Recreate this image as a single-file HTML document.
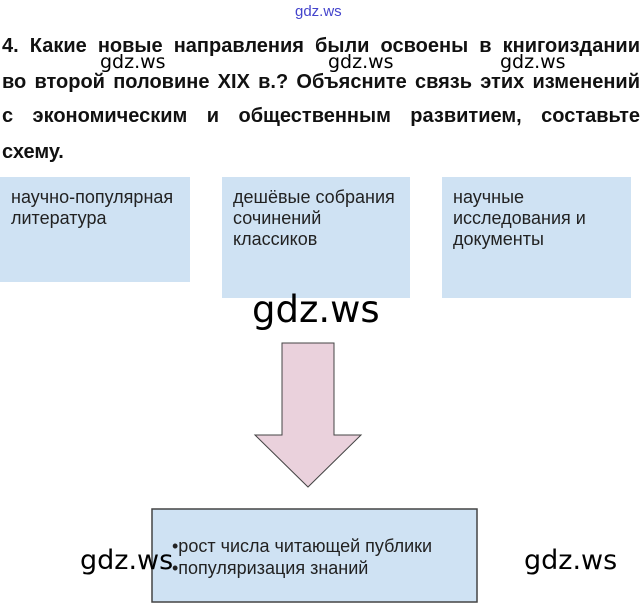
<!DOCTYPE html>
<html><head><meta charset="utf-8"><style>
body{margin:0;width:644px;height:607px;background:#fff;position:relative;overflow:hidden;font-family:"Liberation Sans","DejaVu Sans",sans-serif}
.a{position:absolute}
.t{left:2px;width:638px;font-weight:bold;font-size:20px;text-align:justify;text-align-last:justify;white-space:nowrap;color:#111;font-family:"Liberation Sans",sans-serif}
.b{background:#cfe2f3;font-size:18px;color:#222;line-height:21px;padding:10px 0 0 11px;box-sizing:border-box}
.w{font-family:"DejaVu Sans",sans-serif;color:#000}
</style></head><body>
<div class="a" style="left:295px;top:3px;font-size:15px;color:#44c">gdz.ws</div>
<div class="a t" style="top:35px">4. Какие новые направления были освоены в книгоиздании</div>
<div class="a t" style="top:71px">во второй половине XIX в.? Объясните связь этих изменений</div>
<div class="a t" style="top:105px">с экономическим и общественным развитием, составьте</div>
<div class="a" style="left:2px;top:141px;font-weight:bold;font-size:20px;color:#111">схему.</div>
<div class="a w" style="left:100px;top:51px;font-size:19px">gdz.ws</div>
<div class="a w" style="left:328px;top:51px;font-size:19px">gdz.ws</div>
<div class="a w" style="left:500px;top:51px;font-size:19px">gdz.ws</div>
<div class="a b" style="left:0;top:177px;width:190px;height:105px">научно-популярная<br>литература</div>
<div class="a b" style="left:222px;top:177px;width:188px;height:121px">дешёвые собрания<br>сочинений<br>классиков</div>
<div class="a b" style="left:442px;top:177px;width:189px;height:121px">научные<br>исследования и<br>документы</div>
<div class="a w" style="left:252px;top:288px;font-size:37px">gdz.ws</div>
<svg class="a" style="left:0;top:0" width="644" height="607">
<polygon points="282,343 334,343 334,435 361,435 308,487 255,435 282,435" fill="#ead1dc" stroke="#444" stroke-width="1"/>
<rect x="152" y="509" width="325" height="93" fill="#cfe2f3" stroke="#444" stroke-width="1.5"/>
</svg>
<div class="a" style="left:172px;top:535px;font-size:18px;line-height:22px;color:#222">•рост числа читающей публики<br>•популяризация знаний</div>
<div class="a w" style="left:80px;top:545px;font-size:27px">gdz.ws</div>
<div class="a w" style="left:524px;top:545px;font-size:27px">gdz.ws</div>
</body></html>
